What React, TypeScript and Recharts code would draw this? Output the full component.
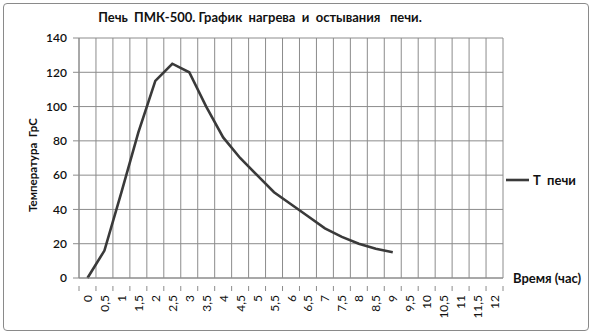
import { CartesianGrid, Legend, Line, LineChart, XAxis, YAxis } from "recharts";

// время, час (категории по оси X)
const times = [0, 0.5, 1, 1.5, 2, 2.5, 3, 3.5, 4, 4.5, 5, 5.5, 6, 6.5, 7, 7.5, 8, 8.5, 9, 9.5, 10, 10.5, 11, 11.5, 12];
// температура печи, замеры до 9 часов
const temps = [0, 16, 50, 85, 115, 125, 120, 100, 82, 70, 60, 50, 43, 36, 29, 24, 20, 17, 15];
const tempTicks = [0, 20, 40, 60, 80, 100, 120, 140];

const title = "Печь  ПМК-500. График  нагрева  и  остывания   печи.";
const seriesName = "Т  печи";
const xTitle = "Время (час)";
const yTitle = "Температура  ГрС";

const half = 0.25;
const xMin = times[0] - half;
const xMax = times[times.length - 1] + half;
const boundaries = [...times.map((t) => t - half), xMax];
const allTicks = [...boundaries, ...times].sort((a, b) => a - b);

const data = times.map((t, i) => ({ t, temp: i < temps.length ? temps[i] : null }));

const GRID = "#8c8c8c";
const LINE = "#3a3a3a";
const FONT = "Lato, sans-serif";

const XTick = (props: any) => {
    const { x, y, payload } = props;
    const v = payload.value;
    if (!Number.isInteger(v * 2)) {
        // граница категории - засечка
        return <line x1={x} x2={x} y1={y} y2={y + 5} stroke={GRID} />;
    }
    return (
        <text
            x={x}
            y={y + 9}
            transform={`rotate(-90, ${x}, ${y + 9})`}
            textAnchor="end"
            dominantBaseline="central"
            fontSize={12}
            fill="#111"
        >
            {String(v).replace(".", ",")}
        </text>
    );
};

const XLabel = (props: any) => {
    const { viewBox } = props;
    return (
        <text x={viewBox.x + viewBox.width + 10} y={viewBox.y + 5} fontSize={13} fontWeight={700} fill="#111">
            {xTitle}
        </text>
    );
};

const YLabel = (props: any) => {
    const { viewBox } = props;
    const cx = viewBox.x + 32;
    const cy = viewBox.y + viewBox.height / 2 + 7;
    return (
        <text
            x={cx}
            y={cy}
            transform={`rotate(-90, ${cx}, ${cy})`}
            textAnchor="middle"
            dominantBaseline="central"
            fontSize={11.5}
            fontWeight={700}
            fill="#111"
            style={{ whiteSpace: "pre" }}
        >
            {yTitle}
        </text>
    );
};

const LegendContent = () => (
    <svg width={90} height={18}>
        <line x1={1} x2={24} y1={9} y2={9} stroke={LINE} strokeWidth={2.6} />
        <text x={28} y={9} dominantBaseline="central" fontSize={13} fontWeight={700} fill="#111" style={{ whiteSpace: "pre" }}>
            {seriesName}
        </text>
    </svg>
);

const gridX = ({ xAxis, offset }: any) => {
    if (xAxis && typeof xAxis.scale === "function") return boundaries.map((b) => xAxis.scale(b));
    return boundaries.map((b) => offset.left + ((b - xMin) / (xMax - xMin)) * offset.width);
};

export default function App() {
    return (
        <div style={{ position: "absolute", left: 0, top: 0, width: 597, height: 335, background: "#fff", fontFamily: FONT }}>
            <div
                style={{
                    position: "absolute",
                    left: 3,
                    top: 3,
                    width: 584,
                    height: 326,
                    border: "1.5px solid #8a8a8a",
                    borderRadius: 4,
                }}
            />
            <div
                style={{
                    position: "absolute",
                    left: 0,
                    top: 9,
                    width: 520,
                    textAlign: "center",
                    fontSize: 13,
                    fontWeight: 700,
                    whiteSpace: "pre",
                    color: "#111",
                }}
            >
                {title}
            </div>
            <div style={{ position: "absolute", left: 0, top: 0 }}>
                <LineChart width={597} height={335} data={data} margin={{ top: 38, right: 4, bottom: 5, left: 0 }}>
                    <CartesianGrid stroke={GRID} strokeWidth={1} verticalCoordinatesGenerator={gridX} />
                    <XAxis
                        type="number"
                        dataKey="t"
                        domain={[xMin, xMax]}
                        ticks={allTicks}
                        interval={0}
                        tickLine={false}
                        axisLine={{ stroke: GRID }}
                        tick={<XTick />}
                        height={52}
                        label={<XLabel />}
                    />
                    <YAxis
                        domain={[0, 140]}
                        ticks={tempTicks}
                        interval={0}
                        width={79}
                        tickSize={6}
                        tickMargin={6}
                        axisLine={{ stroke: GRID }}
                        tickLine={{ stroke: GRID }}
                        tick={{ fill: "#111", fontSize: 12, fontWeight: 600 }}
                        label={<YLabel />}
                    />
                    <Line
                        dataKey="temp"
                        name={seriesName}
                        stroke={LINE}
                        strokeWidth={2.6}
                        dot={false}
                        isAnimationActive={false}
                    />
                    <Legend
                        layout="horizontal"
                        verticalAlign="middle"
                        align="right"
                        wrapperStyle={{ left: 505, top: 171, width: 90, height: 18 }}
                        content={<LegendContent />}
                    />
                </LineChart>
            </div>
        </div>
    );
}
